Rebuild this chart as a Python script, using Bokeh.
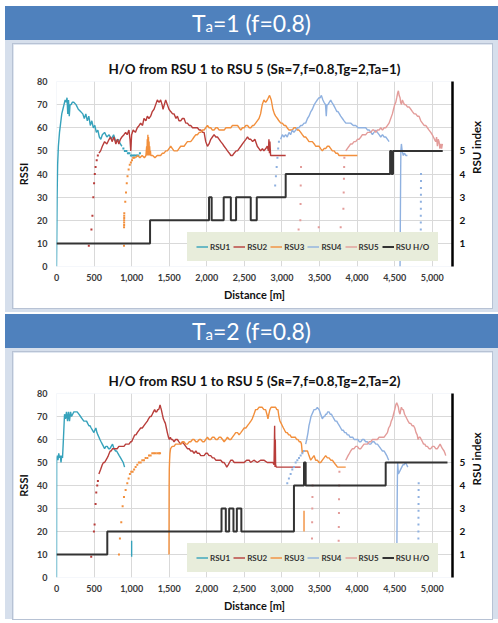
import math
from bokeh.plotting import figure
from bokeh.models import (Range1d, LinearAxis, FixedTicker, SingleIntervalTicker,
                          NumeralTickFormatter, Legend, LegendItem, Div)
from bokeh.layouts import column
from bokeh.embed import file_html
from bokeh.resources import INLINE

NAN = float("nan")

# ---------------- data: Ta = 1 ----------------
ta1_rsu1 = [(0,0),(8,30),(15,44),(25,52),(40,58),(55,62),(70,66),(85,68),(100,70),(115,72),(130,71),(140,73),(150,66),(160,72),(170,65),(180,70),(195,70),(210,71),(230,71),(260,70),(290,68),(320,67),(350,66),(370,64),(390,66),(410,63),(430,65),(450,61),(470,63),(490,60),(510,61),(530,58),(550,59),(570,56),(590,55),(610,57),(640,58),(670,56),(700,57),(730,55),(760,57),(790,54),(820,55),(850,53),(870,52)]
ta1_rsu1_dots = [(890,51),(910,50),(930,50),(950,49),(970,49),(990,48),(1010,48),(1030,48),(1050,48),(1070,48),(1090,48),(1110,49)]

ta1_rsu2_dots = [(430,9),(465,16),(478,22),(490,30),(500,36),(510,40),(520,43),(535,46),(550,48)]
ta1_rsu2 = [(565,49),(587,50),(610,52),(640,54),(670,53),(700,55),(720,56),(740,54),(764,56),(790,53),(810,55),(830,53),(850,55),(870,56),(898,57),(920,58),(940,57),(964,59),(978,55),(988,50),(1000,57),(1020,59),(1050,58),(1075,60),(1100,61),(1120,62),(1145,61),(1164,64),(1190,63),(1209,65),(1230,64),(1253,65),(1275,67),(1298,68),(1320,70),(1342,72),(1365,71),(1386,72),(1405,70),(1418,68),(1435,70),(1453,72),(1475,70),(1497,68),(1520,67),(1545,66),(1564,66),(1590,64),(1609,65),(1630,63),(1653,63),(1675,64),(1698,64),(1720,62),(1742,62),(1765,61),(1786,61),(1810,60),(1831,60),(1855,60),(1875,60),(1900,59),(1920,59),(1945,58),(1964,58),(1986,54),(2009,52),(2030,53),(2053,55),(2075,56),(2097,57),(2120,56),(2142,56),(2165,55),(2186,54),(2210,53),(2231,52),(2255,51),(2275,50),(2300,49),(2320,48),(2342,48),(2364,49),(2390,50),(2409,50),(2430,51),(2453,52),(2475,53),(2497,54),(2520,55),(2542,56),(2565,55),(2586,55),(2610,54),(2640,55),(2672,52),(2695,51),(2716,50),(2740,51),(2760,50),(2785,51),(2805,52),(2820,50),(2827,55),(2834,49),(2840,54),(2849,48),(2880,48),(2920,48),(2960,48),(3000,48),(3050,48)]

ta1_rsu3_dots = [(898,9),(899,17),(900,18),(900,19),(900,20),(901,21),(901,22),(902,23),(915,28),(925,32),(935,36),(945,39),(960,42),(975,44),(990,45),(1005,46),(1020,47),(1035,47)]
ta1_rsu3 = [(1050,47),(1080,48),(1110,47),(1140,48),(1170,47),(1190,48),(1200,52),(1204,48),(1208,55),(1212,48),(1216,57),(1220,49),(1224,56),(1228,48),(1232,54),(1236,48),(1240,52),(1245,48),(1250,50),(1255,48),(1280,48),(1310,47),(1340,48),(1386,48),(1410,49),(1431,49),(1455,50),(1475,50),(1497,51),(1520,52),(1542,51),(1564,50),(1590,50),(1609,50),(1630,51),(1653,52),(1675,52),(1698,52),(1720,53),(1742,54),(1765,54),(1786,54),(1810,55),(1831,56),(1855,57),(1875,57),(1900,58),(1920,58),(1945,59),(1964,59),(1986,60),(2009,61),(2030,60),(2053,60),(2075,59),(2097,59),(2120,60),(2142,60),(2165,59),(2186,59),(2210,59),(2231,59),(2255,60),(2275,60),(2300,60),(2320,60),(2342,61),(2364,61),(2390,61),(2409,61),(2430,60),(2453,59),(2475,60),(2497,60),(2520,61),(2542,61),(2565,60),(2586,60),(2610,61),(2627,61),(2650,62),(2672,63),(2695,64),(2716,66),(2738,70),(2760,72),(2783,71),(2805,72),(2820,73),(2836,74),(2858,72),(2880,68),(2900,66),(2916,65),(2940,64),(2960,63),(2985,62),(3005,62),(3030,61),(3049,61),(3070,60),(3094,59),(3115,59),(3138,59),(3160,60),(3183,60),(3205,59),(3227,59),(3250,58),(3271,57),(3295,56),(3316,56),(3340,55),(3360,54),(3385,54),(3405,54),(3430,53),(3449,52),(3470,52),(3494,52),(3515,51),(3538,50),(3560,51),(3582,51),(3605,52),(3627,52),(3650,51),(3671,50),(3695,50),(3716,49),(3740,49),(3760,48),(3800,48),(3827,48),(3870,48),(3915,48),(3960,48),(4004,48)]

ta1_rsu4_dots = [(2910,35),(2920,39),(2930,43),(2940,47),(2950,51),(2960,54),(4848,16),(4848,19),(4848,22),(4849,25),(4849,28),(4850,31),(4850,34),(4851,37),(4851,40)]
ta1_rsu4 = [(2983,55),(3005,57),(3027,56),(3049,57),(3071,56),(3094,58),(3115,57),(3138,59),(3160,58),(3183,59),(3205,60),(3227,60),(3250,61),(3271,61),(3295,62),(3316,62),(3340,64),(3360,65),(3385,67),(3405,68),(3430,70),(3449,71),(3470,72),(3494,73),(3510,73),(3525,74),(3545,72),(3560,71),(3580,70),(3590,65),(3600,70),(3613,70),(3630,71),(3649,72),(3665,71),(3684,70),(3700,69),(3716,68),(3730,67),(3746,67),(3765,66),(3782,65),(3805,64),(3827,63),(3850,62),(3871,62),(3895,62),(3915,62),(3950,61),(3982,61),(4015,60),(4049,60),(4080,60),(4116,60),(4140,59),(4160,59),(4185,58),(4204,57),(4225,58),(4249,59),(4270,58),(4293,57),(4315,56),(4338,57),(4360,56),(4382,56),(4405,55),(4426,54)]
ta1_rsu4_b = [(4572,0),(4576,20),(4580,40),(4583,50),(4590,53),(4600,50),(4615,48),(4630,49),(4650,48),(4670,48)]

ta1_rsu5_dots = [(3222,16),(3245,20),(3248,27),(3250,35),(3252,40),(3254,43),(3490,17),(3782,17),(3818,25),(3822,32),(3825,38),(3828,43),(3831,47)]
ta1_rsu5 = [(3849,50),(3870,51),(3893,52),(3915,53),(3937,53),(3960,54),(3982,54),(4005,55),(4026,55),(4050,56),(4071,57),(4095,57),(4116,57),(4140,58),(4160,58),(4182,58),(4204,59),(4225,59),(4249,58),(4270,59),(4293,59),(4315,60),(4338,59),(4360,60),(4382,60),(4405,61),(4426,62),(4448,64),(4470,66),(4485,68),(4501,70),(4515,71),(4528,73),(4540,75),(4550,76),(4560,74),(4572,73),(4580,71),(4590,70),(4603,72),(4616,71),(4630,70),(4648,70),(4670,69),(4692,69),(4715,68),(4737,67),(4760,66),(4781,66),(4803,65),(4825,65),(4848,63),(4870,62),(4892,61),(4914,61),(4936,60),(4958,59),(4981,58),(5000,57),(5016,56),(5030,55),(5047,54),(5058,56),(5069,52),(5080,55),(5091,54),(5102,51),(5114,53),(5125,51),(5136,53)]

ta1_ho_d = [0, 1245, 2030, 2065, 2225, 2320, 2390, 2585, 2665, 3050, 4440, 4458, 4478, 5140]
ta1_ho_idx = [1, 2, 3, 2, 3, 2, 3, 2, 3, 4, 5, 4, 5, 5]

# ---------------- data: Ta = 2 ----------------
ta2_rsu1 = [(0,0),(2,52),(10,53),(20,51),(30,54),(40,52),(50,53),(60,50),(70,53),(80,52),(89,58),(100,66),(107,71),(120,69),(133,72),(147,68),(160,72),(173,68),(187,72),(200,70),(215,71),(231,72),(250,72),(275,72),(298,71),(320,70),(342,69),(364,68),(382,68),(400,68),(415,67),(431,66),(445,66),(462,65),(480,64),(498,63),(510,64),(524,65),(538,63),(551,62),(565,61),(578,60),(593,59),(609,58),(625,57),(640,56),(658,57),(675,57),(693,56),(711,56),(728,57),(746,58),(765,56),(786,55),(800,55),(818,54),(835,53),(853,52),(870,51),(888,50),(906,48)]
ta2_rsu1_b = [(1000,9),(1000,16)]

ta2_rsu2_dots = [(462,9),(498,20),(507,23),(520,32),(529,37),(542,40),(551,42)]
ta2_rsu2 = [(564,45),(587,47),(609,49),(625,50),(640,50),(658,51),(675,52),(690,53),(702,54),(715,55),(728,55),(746,56),(764,56),(786,56),(809,56),(830,57),(853,57),(875,57),(898,57),(920,58),(942,58),(965,58),(986,59),(1000,59),(1013,60),(1027,61),(1040,62),(1058,62),(1075,63),(1097,64),(1120,65),(1142,65),(1164,66),(1186,67),(1209,68),(1225,69),(1244,70),(1260,70),(1275,71),(1290,72),(1306,73),(1320,72),(1333,72),(1347,73),(1360,73),(1370,74),(1378,75),(1386,74),(1395,73),(1408,71),(1422,69),(1435,68),(1449,67),(1462,65),(1475,63),(1490,61),(1502,60),(1515,61),(1529,60),(1545,60),(1564,59),(1585,60),(1609,60),(1630,59),(1653,58),(1675,59),(1698,58),(1720,57),(1742,56),(1765,56),(1786,55),(1810,55),(1831,54),(1855,55),(1875,54),(1900,54),(1920,53),(1945,53),(1964,53),(1986,54),(2009,54),(2030,53),(2053,53),(2075,52),(2097,52),(2120,51),(2142,51),(2165,51),(2186,51),(2210,50),(2231,50),(2250,49),(2266,48),(2285,49),(2302,50),(2320,51),(2342,51),(2365,50),(2387,50),(2410,50),(2431,50),(2465,50),(2497,50),(2530,51),(2564,51),(2583,50),(2627,51),(2672,50),(2716,51),(2760,51),(2805,50),(2849,50),(2880,50),(2895,49),(2903,66),(2908,48),(2912,60),(2916,49),(2925,48),(2938,48),(2980,48),(3027,48),(3071,48),(3116,48),(3160,48),(3205,48),(3249,48)]

ta2_rsu3_dots = [(831,10),(844,17),(862,24),(880,31),(898,35),(920,38),(942,41),(960,43),(977,45),(995,46),(1013,46),(1033,47),(1053,48),(1075,49),(1097,50),(1120,50),(1142,51),(1164,51),(1186,52),(1209,52),(1231,53),(1253,53),(1275,54),(1298,54),(1320,54),(1345,54),(1365,54),(1378,54)]
ta2_rsu3 = [(1497,10),(1498,25),(1499,40),(1501,47),(1505,51),(1510,54),(1518,56),(1540,57),(1564,57),(1585,58),(1609,58),(1630,58),(1653,58),(1675,59),(1698,59),(1720,58),(1742,58),(1765,59),(1786,59),(1810,60),(1831,60),(1855,59),(1875,59),(1900,60),(1920,60),(1945,59),(1964,59),(1986,60),(2009,61),(2030,60),(2053,60),(2075,61),(2097,61),(2120,60),(2142,60),(2165,61),(2186,61),(2210,60),(2231,59),(2255,60),(2275,61),(2300,60),(2320,60),(2342,61),(2364,62),(2385,63),(2409,63),(2430,62),(2453,63),(2475,64),(2497,65),(2520,65),(2542,66),(2565,67),(2586,68),(2605,69),(2628,71),(2650,73),(2672,73),(2694,74),(2716,74),(2738,74),(2760,73),(2783,73),(2800,71),(2814,69),(2826,71),(2840,73),(2856,74),(2872,74),(2895,74),(2916,74),(2932,73),(2947,73),(2960,70),(2974,68),(2990,67),(3005,66),(3020,65),(3036,64),(3054,63),(3071,63),(3090,62),(3107,62),(3125,61),(3142,61),(3160,61),(3178,61),(3196,60),(3214,60),(3232,59),(3249,59),(3260,58),(3271,54),(3283,55),(3294,55),(3316,55),(3340,55),(3360,53),(3383,51),(3405,52),(3427,53),(3449,51),(3471,51),(3494,50),(3516,50),(3538,51),(3560,52),(3582,53),(3605,52),(3627,52),(3650,51),(3671,51),(3693,50),(3716,49),(3740,48),(3760,48),(3800,48),(3849,48)]
ta2_rsu3_b = [(3294,20),(3294,29)]

ta2_rsu4_dots = [(3071,41),(3093,43),(3116,45),(3138,47),(3160,48),(3183,50),(3205,51),(3227,52),(3249,53),(3272,54),(3294,55),(4816,17),(4816,20),(4817,23),(4817,26),(4818,29),(4818,32),(4819,35),(4819,38),(4820,41)]
ta2_rsu4 = [(3316,58),(3330,60),(3347,63),(3360,66),(3374,68),(3387,70),(3400,71),(3414,72),(3427,73),(3449,73),(3471,74),(3494,73),(3516,71),(3538,69),(3555,70),(3569,70),(3582,71),(3595,71),(3610,72),(3627,72),(3642,71),(3658,71),(3675,70),(3693,69),(3710,68),(3729,68),(3745,67),(3764,66),(3782,65),(3800,64),(3818,64),(3835,63),(3853,63),(3871,62),(3890,62),(3906,61),(3925,61),(3942,61),(3960,60),(3977,60),(3995,60),(4013,60),(4030,59),(4049,59),(4070,60),(4093,60),(4115,59),(4138,59),(4160,58),(4182,58),(4204,59),(4226,59),(4250,58),(4271,58),(4293,57),(4315,56),(4338,55),(4360,55),(4378,54),(4395,53),(4408,52),(4421,51)]
ta2_rsu4_b = [(4530,14),(4532,24),(4534,34),(4537,44),(4540,50),(4550,45),(4565,46),(4580,47),(4595,48),(4610,49),(4625,49),(4645,50),(4660,49),(4675,48)]

ta2_rsu5_dots = [(3400,17),(3402,24),(3404,30),(3406,35),(3408,40),(3755,16),(3757,22),(3759,28),(3760,34),(3762,40),(3765,46)]
ta2_rsu5 = [(3849,51),(3865,52),(3880,53),(3898,54),(3915,55),(3938,56),(3960,56),(3982,57),(4004,57),(4026,56),(4049,56),(4070,57),(4093,58),(4115,58),(4138,58),(4160,59),(4182,59),(4204,60),(4226,60),(4250,60),(4271,60),(4293,61),(4315,61),(4338,61),(4360,61),(4382,62),(4404,63),(4420,65),(4439,66),(4455,68),(4470,69),(4485,71),(4501,73),(4515,75),(4528,76),(4540,75),(4550,74),(4560,72),(4572,71),(4582,73),(4590,74),(4603,73),(4616,73),(4632,71),(4648,70),(4663,69),(4679,68),(4697,67),(4714,67),(4732,66),(4750,66),(4768,65),(4785,63),(4800,62),(4812,60),(4825,61),(4839,61),(4855,60),(4870,59),(4885,58),(4901,58),(4918,57),(4936,57),(4958,56),(4981,56),(5003,57),(5025,57),(5047,56),(5069,56),(5087,57),(5105,58),(5120,57),(5136,56),(5158,55),(5170,54),(5180,53)]

ta2_ho_d = [0, 676, 2196, 2253, 2298, 2355, 2400, 2460, 3160, 3294, 3316, 4381, 5203]
ta2_ho_idx = [1, 2, 3, 2, 3, 2, 3, 2, 4, 5, 4, 5, 5]

series_names = ["RSU1", "RSU2", "RSU3", "RSU4", "RSU5"]
series_colors = ["#36a2bb", "#b83d3a", "#f28f3c", "#8fb1e0", "#e39c9a"]
ho_color = "#333333"
x_ticks_step = 500
y_ticks_step = 10
index_ticks = [1, 2, 3, 4, 5]

FONT = "Lato"
LEGEND_BG = "#e8eddb"


def joined(*segs):
    xs, ys = [], []
    for i, s in enumerate(segs):
        if i:
            xs.append(NAN)
            ys.append(NAN)
        for x, y in s:
            xs.append(x)
            ys.append(y)
    return xs, ys


def make_chart(title, lines, dots, ho_d, ho_idx, height, top):
    p = figure(width=479, height=height, x_range=Range1d(0, 5270), y_range=Range1d(0, 80),
               output_backend="svg", toolbar_location=None, title=title,
               min_border_left=43, min_border_right=40, min_border_top=top, min_border_bottom=42,
               styles={"box-shadow": "0 0 0 1px #b7c2d4"})
    p.extra_y_ranges = {"idx": Range1d(0, 8)}
    p.outline_line_color = None
    p.border_fill_color = "white"
    p.title.align = "center"
    p.title.text_font = FONT
    p.title.text_font_size = "13.4px"
    p.title.text_font_style = "bold"
    p.title.text_color = "#111111"
    p.title.standoff = 9

    ya = p.yaxis[0]
    ya.ticker = SingleIntervalTicker(interval=y_ticks_step, num_minor_ticks=0)
    xa = p.xaxis[0]
    xa.ticker = SingleIntervalTicker(interval=x_ticks_step, num_minor_ticks=0)
    xa.formatter = NumeralTickFormatter(format="0,0")
    p.xgrid.ticker = xa.ticker
    p.ygrid.ticker = ya.ticker
    p.grid.grid_line_color = "#d9d9d9"
    p.grid.grid_line_width = 1
    for ax, lab, so in ((ya, "RSSI", 9), (xa, "Distance [m]", 7)):
        ax.axis_line_color = None
        ax.major_tick_line_color = None
        ax.minor_tick_line_color = None
        ax.major_tick_out = 0
        ax.major_tick_in = 0
        ax.minor_tick_out = 0
        ax.major_label_standoff = so
        ax.major_label_text_font = FONT
        ax.major_label_text_font_size = "9px"
        ax.major_label_text_font_style = "bold"
        ax.major_label_text_color = "#3a3a3a"
        ax.axis_label = lab
        ax.axis_label_standoff = 4
        ax.axis_label_text_font = FONT
        ax.axis_label_text_font_size = "11px"
        ax.axis_label_text_font_style = "bold"
        ax.axis_label_text_color = "#111111"

    ra = LinearAxis(y_range_name="idx", ticker=FixedTicker(ticks=index_ticks),
                    axis_line_color="black", axis_line_width=2.5,
                    major_tick_line_color=None, minor_tick_line_color=None,
                    major_tick_out=0, major_tick_in=0, minor_tick_out=0,
                    major_label_standoff=7, major_label_text_font=FONT,
                    major_label_text_font_size="10px", major_label_text_font_style="bold",
                    major_label_text_color="#111111",
                    axis_label="RSU index", axis_label_standoff=8, axis_label_text_font=FONT,
                    axis_label_text_font_size="11.5px", axis_label_text_font_style="bold",
                    axis_label_text_color="#111111")
    ra.axis_label_orientation = math.pi / 2
    p.add_layout(ra, "right")

    items = []
    for name, col, segs, dts in zip(series_names, series_colors, lines, dots):
        xs, ys = joined(*segs)
        r = p.line(xs, ys, line_color=col, line_width=1.4)
        if dts:
            dx = [d for d, _ in dts]
            dy = [v for _, v in dts]
            p.scatter(dx, dy, marker="square", size=2, line_color=None, fill_color=col)
        items.append(LegendItem(label=name, renderers=[r]))
    h = p.step(ho_d, ho_idx, mode="after", y_range_name="idx", line_color=ho_color, line_width=2)
    items.append(LegendItem(label="RSU H/O", renderers=[h]))

    leg = Legend(items=items, orientation="horizontal", location=(131, 5),
                 background_fill_color=LEGEND_BG, background_fill_alpha=1.0,
                 border_line_color=LEGEND_BG, border_line_width=1,
                 label_text_font=FONT, label_text_font_size="8px",
                 label_text_font_style="bold", label_text_color="#333333",
                 glyph_width=12, glyph_height=11, label_height=11, label_standoff=2,
                 spacing=3, padding=8, margin=0)
    p.add_layout(leg)
    return p


hdr_style = {"background-color": "#4f81bd", "color": "white", "font-family": "Lato, sans-serif",
             "font-size": "23px", "text-align": "center", "line-height": "34px"}
panel_style = {"background-color": "#d6dfec"}

h1 = Div(text='T<span style="font-size:15px">a</span>=1 (f=0.8)', width=493, height=34,
         styles=hdr_style, margin=0)
p1 = make_chart("H/O from RSU 1 to RSU 5 (S\u0280=7,f=0.8,Tg=2,Ta=1)",
                [[ta1_rsu1], [ta1_rsu2], [ta1_rsu3], [ta1_rsu4, ta1_rsu4_b], [ta1_rsu5]],
                [ta1_rsu1_dots, ta1_rsu2_dots, ta1_rsu3_dots, ta1_rsu4_dots, ta1_rsu5_dots],
                ta1_ho_d, ta1_ho_idx, 264, 37)
p1.margin = (4, 6, 4, 8)

h2 = Div(text='T<span style="font-size:15px">a</span>=2 (f=0.8)', width=493, height=34,
         styles=hdr_style, margin=0)
p2 = make_chart("H/O from RSU 1 to RSU 5 (S\u0280=7,f=0.8,Tg=2,Ta=2)",
                [[ta2_rsu1, ta2_rsu1_b], [ta2_rsu2], [ta2_rsu3, ta2_rsu3_b], [ta2_rsu4, ta2_rsu4_b], [ta2_rsu5]],
                [[], ta2_rsu2_dots, ta2_rsu3_dots, ta2_rsu4_dots, ta2_rsu5_dots],
                ta2_ho_d, ta2_ho_idx, 267, 41)
p2.margin = (4, 6, 0, 8)

panel1 = column(h1, p1, styles=panel_style, margin=(6, 0, 0, 5))
panel2 = column(h2, p2, styles=panel_style, margin=(2, 0, 0, 5))
page = column(panel1, panel2, margin=0)

open("out.html", "w").write(file_html(page, INLINE))
